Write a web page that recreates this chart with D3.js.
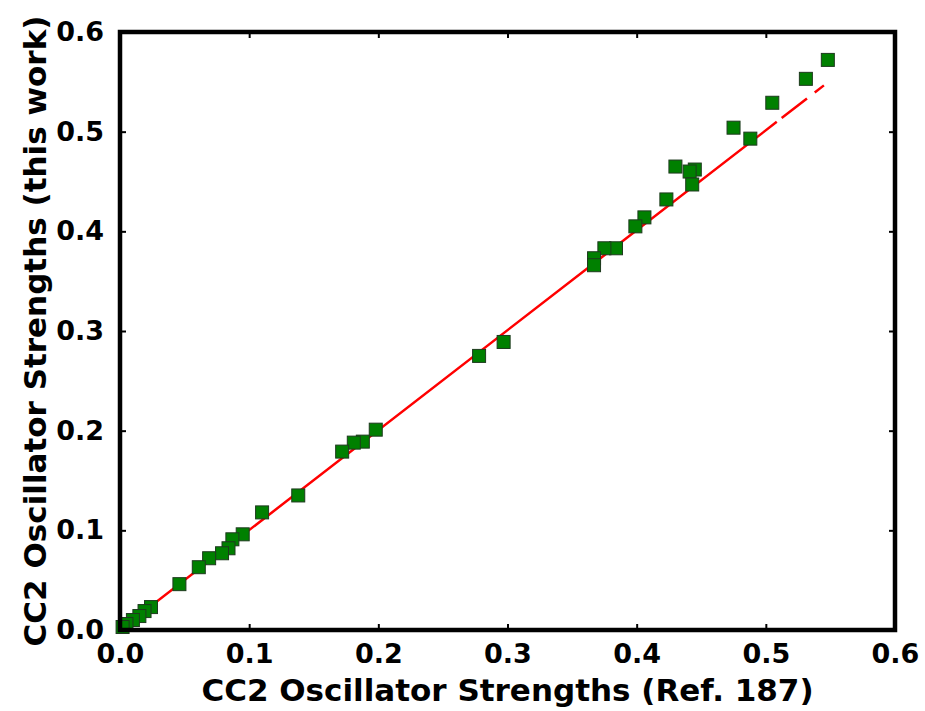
<!DOCTYPE html>
<html>
<head>
<meta charset="utf-8">
<script src="https://cdn.jsdelivr.net/npm/d3@7"></script>
<style>
  body { margin: 0; background: #fff; }
  text { font-family: "DejaVu Sans", sans-serif; font-weight: bold; }
</style>
</head>
<body>
<svg id="chart" width="925" height="711"></svg>
<script>
// reference values (x) vs this work (y)
var refValues = [0.548, 0.531, 0.505, 0.488, 0.475, 0.445, 0.441, 0.443, 0.430, 0.423,
                 0.406, 0.399, 0.384, 0.375, 0.367, 0.367, 0.297, 0.278, 0.198, 0.188,
                 0.181, 0.172, 0.138, 0.110, 0.095, 0.087, 0.084, 0.079, 0.069, 0.061,
                 0.046, 0.024, 0.019, 0.015, 0.010, 0.005, 0.002];
var workValues = [0.572, 0.553, 0.529, 0.493, 0.504, 0.462, 0.460, 0.447, 0.465, 0.432,
                  0.414, 0.405, 0.383, 0.383, 0.373, 0.366, 0.289, 0.275, 0.201, 0.189,
                  0.188, 0.179, 0.135, 0.118, 0.096, 0.091, 0.082, 0.077, 0.072, 0.063,
                  0.046, 0.023, 0.019, 0.014, 0.010, 0.006, 0.003];
// fitted line end points
var fitX = [0.0, 0.545];
var fitY = [0.0, 0.5465];
var tickValues = [0.0, 0.1, 0.2, 0.3, 0.4, 0.5, 0.6];

var margin = {left: 120, top: 32, right: 30, bottom: 81};
var width = 925, height = 711;

var svg = d3.select("#chart");

var x = d3.scaleLinear().domain([0, 0.6]).range([margin.left, width - margin.right]);
var y = d3.scaleLinear().domain([0, 0.6]).range([height - margin.bottom, margin.top]);

var fmt = d3.format(".1f");

// inward ticks, top/right mirrored
var xAxisB = d3.axisBottom(x).tickValues(tickValues).tickSize(-6).tickPadding(14).tickFormat(fmt);
var xAxisT = d3.axisTop(x).tickValues(tickValues).tickSize(-6).tickFormat("");
var yAxisL = d3.axisLeft(y).tickValues(tickValues).tickSize(-6).tickPadding(16).tickFormat(fmt);
var yAxisR = d3.axisRight(y).tickValues(tickValues).tickSize(-6).tickFormat("");

function styleAxis(g) {
  g.select(".domain").remove();
  g.selectAll(".tick line").attr("stroke", "black").attr("stroke-width", 2);
  g.selectAll(".tick text").attr("fill", "black").style("font-size", "27px")
    .style("font-family", "DejaVu Sans").style("font-weight", "bold");
}

svg.append("g").attr("transform", "translate(0," + y(0) + ")").call(xAxisB).call(styleAxis);
svg.append("g").attr("transform", "translate(0," + y(0.6) + ")").call(xAxisT).call(styleAxis);
svg.append("g").attr("transform", "translate(" + x(0) + ",0)").call(yAxisL).call(styleAxis);
svg.append("g").attr("transform", "translate(" + x(0.6) + ",0)").call(yAxisR).call(styleAxis);

// fit line (the end of it is broken into dashes, as in the picture)
var linePts = fitX.map(function(d, i){ return [x(d), y(fitY[i])]; });
var lineLen = Math.hypot(linePts[1][0] - linePts[0][0], linePts[1][1] - linePts[0][1]);
var dashFr = [0.933, 0.007, 0.036, 0.011, 0.013, 1];
svg.append("path")
  .datum(linePts)
  .attr("d", d3.line())
  .attr("stroke", "red")
  .attr("stroke-width", 2.5)
  .attr("fill", "none")
  .attr("stroke-dasharray", dashFr.map(function(f){ return (f * lineLen).toFixed(1); }).join(","));

// square markers
var s = 13;
svg.append("g").selectAll("rect")
  .data(refValues)
  .enter()
  .append("rect")
  .attr("x", function(d){ return x(d) - s / 2; })
  .attr("y", function(d, i){ return y(workValues[i]) - s / 2; })
  .attr("width", s)
  .attr("height", s)
  .attr("fill", "#008000")
  .attr("stroke", "#1e3a1e")
  .attr("stroke-width", 1);

// frame
svg.append("rect")
  .attr("x", x(0)).attr("y", y(0.6))
  .attr("width", x(0.6) - x(0)).attr("height", y(0) - y(0.6))
  .attr("fill", "none").attr("stroke", "black").attr("stroke-width", 4.5);

// axis labels
svg.append("text")
  .attr("x", (x(0) + x(0.6)) / 2)
  .attr("y", 701)
  .attr("text-anchor", "middle")
  .style("font-size", "31px")
  .text("CC2 Oscillator Strengths (Ref. 187)");

svg.append("text")
  .attr("transform", "translate(46," + (y(0) + y(0.6)) / 2 + ") rotate(-90)")
  .attr("text-anchor", "middle")
  .style("font-size", "31px")
  .text("CC2 Oscillator Strengths (this work)");
</script>
</body>
</html>
